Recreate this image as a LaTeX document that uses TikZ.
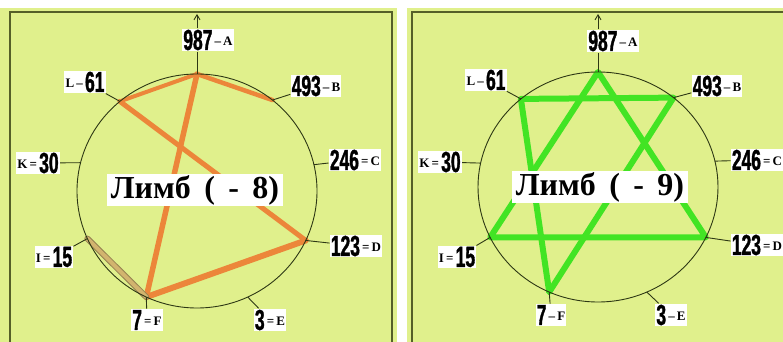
\documentclass[tikz,border=0pt]{standalone}
\usepackage{fontspec}
\setmainfont{Liberation Serif}
\newfontfamily\numf[FakeStretch=0.6,FakeBold=1.2]{Liberation Sans}
\usetikzlibrary{arrows.meta}
\definecolor{bgc}{RGB}{224,240,140}
\definecolor{framec}{RGB}{85,95,40}
\definecolor{ringc}{RGB}{45,55,20}
\definecolor{orngc}{RGB}{236,134,58}
\definecolor{tanc}{RGB}{210,180,110}
\definecolor{tanedgec}{RGB}{150,130,80}
\definecolor{grnc}{RGB}{66,228,36}
\newcommand{\nm}[1]{{\numf\bfseries\fontsize{29}{29}\selectfont #1}}
\newcommand{\lt}[1]{\raisebox{4.5pt}{\bfseries\fontsize{13}{13}\selectfont #1}}
\newcommand{\gap}{\hspace{0.42em}}
\tikzset{
  lab/.style={fill=white, inner sep=1.2pt, text=black},
  ringline/.style={draw=ringc, line width=0.9pt},
  tickline/.style={draw=ringc, line width=0.9pt},
  oline/.style={draw=orngc, line width=5pt, line cap=round},
  gline/.style={draw=grnc, line width=6pt, line cap=round, line join=round},
  titlebox/.style={fill=white, inner xsep=4pt, inner ysep=1pt, text=black, font=\fontsize{32}{32}\selectfont\bfseries},
  panelframe/.style={draw=framec, line width=1.3pt},
  uparrow/.style={tickline, -{Straight Barb[length=5pt,width=6pt]}},
}
\begin{document}
\begin{tikzpicture}[x=1pt,y=1pt]
\useasboundingbox (0,0) rectangle (783,342);
\clip (0,0) rectangle (783,342);
% backgrounds
\fill[white] (0,0) rectangle (783,342);
\fill[bgc] (0,0) rectangle (397,334);
\fill[bgc] (407,0) rectangle (783,334);
\draw[panelframe] (10,-2) -- (10,330) -- (392,330) -- (392,-2);
\draw[panelframe] (412,-2) -- (412,330) -- (790,330);

% ---------------- left panel ----------------
\begin{scope}[shift={(197,151)}]
  \coordinate (lA) at (90:120pt and 117pt);
  \coordinate (lB) at (51:120pt and 117pt);
  \coordinate (lC) at (13:120pt and 117pt);
  \coordinate (lD) at (-25:120pt and 117pt);
  \coordinate (lE) at (-65:120pt and 117pt);
  \coordinate (lF) at (-115:120pt and 117pt);
  \coordinate (lI) at (-156:120pt and 117pt);
  \coordinate (lK) at (166:120pt and 117pt);
  \coordinate (lL) at (130:120pt and 117pt);
  \coordinate (lc) at (0,0);
\end{scope}
\coordinate (lTop) at (197,328);

\draw[oline, line width=4pt] (lL) -- (lA);
\draw[oline, line width=4.5pt] (lA) -- (lB);
\draw[oline] (lL) -- (lD);
\draw[oline, line width=5.5pt] (lA) -- (lF);
\draw[oline, line width=6pt] (lF) -- (lD);
\draw[draw=tanedgec, line width=6pt, line cap=round] (lI) -- (lF);
\draw[draw=tanc, line width=4pt, line cap=round] (lI) -- (lF);

\draw[ringline] (lc) ellipse [x radius=120pt, y radius=117pt];

\node[titlebox] (lT) at (195,152) {Лимб\gap(\gap-\gap8)};

\node[lab] (lAl) at (208,302) {\nm{987}\lt{\,–\,A}};
\node[lab] (lLl) at (85,260) {\lt{L\,–\,}\nm{61}};
\node[lab] (lBl) at (316,256) {\nm{493}\lt{\,–\,B}};
\node[lab] (lCl) at (355,182) {\nm{246}\lt{\,=\,C}};
\node[lab] (lKl) at (38,179) {\lt{K\,=\,}\nm{30}};
\node[lab] (lDl) at (356,96) {\nm{123}\lt{\,=\,D}};
\node[lab] (lIl) at (54,85) {\lt{I\,=\,}\nm{15}};
\node[lab] (lFl) at (147,22) {\nm{7}\lt{\,=\,F}};
\node[lab] (lEl) at (270,22) {\nm{3}\lt{\,=\,E}};

\draw[tickline] (lA) -- (lA |- lAl.south);
\draw[uparrow] (lA |- lAl.north) -- (lTop);
\draw[tickline] (lL) -- (lLl);
\draw[tickline] (lB) -- (lBl);
\draw[tickline] (lC) -- (lCl);
\draw[tickline] (lK) -- (lKl);
\draw[tickline] (lD) -- (lDl);
\draw[tickline] (lI) -- (lIl);
\draw[tickline] (lF) -- (lFl);
\draw[tickline] (lE) -- (lEl);

% ---------------- right panel ----------------
\begin{scope}[shift={(598,155)}]
  \coordinate (rA) at (90:120pt and 115pt);
  \coordinate (rB) at (51:120pt and 115pt);
  \coordinate (rC) at (13:120pt and 115pt);
  \coordinate (rD) at (-26:120pt and 115pt);
  \coordinate (rE) at (-66:120pt and 115pt);
  \coordinate (rF) at (-114:120pt and 115pt);
  \coordinate (rI) at (-154:120pt and 115pt);
  \coordinate (rK) at (168:120pt and 115pt);
  \coordinate (rL) at (130:120pt and 115pt);
  \coordinate (rc) at (0,0);
\end{scope}
\coordinate (rTop) at (598,328);

\draw[gline] (rA) -- (rI) -- (rD) -- cycle;
\draw[gline] (rL) -- (rB) -- (rF) -- cycle;

\draw[ringline] (rc) ellipse [x radius=120pt, y radius=115pt];

\node[titlebox] (rT) at (600,155) {Лимб\gap(\gap-\gap9)};

\node[lab] (rAl) at (613,301) {\nm{987}\lt{\,–\,A}};
\node[lab] (rLl) at (486,262) {\lt{L\,–\,}\nm{61}};
\node[lab] (rBl) at (717,256) {\nm{493}\lt{\,–\,B}};
\node[lab] (rCl) at (757,182) {\nm{246}\lt{\,=\,C}};
\node[lab] (rKl) at (440,180) {\lt{K\,=\,}\nm{30}};
\node[lab] (rDl) at (757,97) {\nm{123}\lt{\,=\,D}};
\node[lab] (rIl) at (457,85) {\lt{I\,=\,}\nm{15}};
\node[lab] (rFl) at (551,27) {\nm{7}\lt{\,–\,F}};
\node[lab] (rEl) at (671,27) {\nm{3}\lt{\,–\,E}};

\draw[tickline] (rA) -- (rA |- rAl.south);
\draw[uparrow] (rA |- rAl.north) -- (rTop);
\draw[tickline] (rL) -- (rLl);
\draw[tickline] (rB) -- (rBl);
\draw[tickline] (rC) -- (rCl);
\draw[tickline] (rK) -- (rKl);
\draw[tickline] (rD) -- (rDl);
\draw[tickline] (rI) -- (rIl);
\draw[tickline] (rF) -- (rFl);
\draw[tickline] (rE) -- (rEl);
\end{tikzpicture}
\end{document}
